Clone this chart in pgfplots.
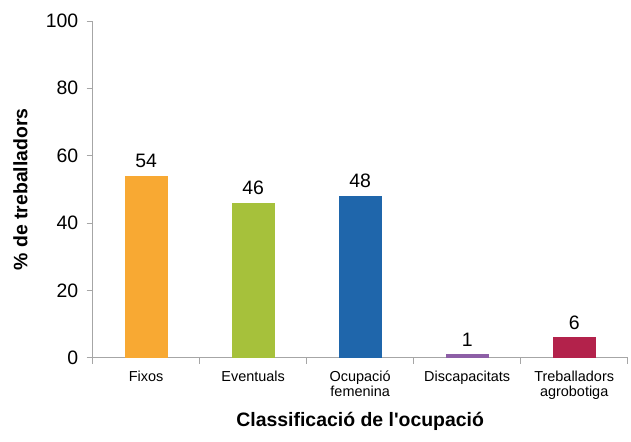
\documentclass[border=0pt]{standalone}
\usepackage{pgfplots}
\pgfplotsset{compat=1.18}
\usepackage{fontspec}
\setmainfont{Liberation Sans}

\definecolor{cfix}{HTML}{F8A933}
\definecolor{cevt}{HTML}{A6C13B}
\definecolor{cfem}{HTML}{1F66AB}
\definecolor{cdis}{HTML}{8D5FA6}
\definecolor{cagr}{HTML}{B3224B}
\definecolor{axgray}{HTML}{A6A6A6}

\begin{document}
\begin{tikzpicture}
  \begin{axis}[
    name=ax,
    scale only axis,
    width=537pt, height=338pt,
    ybar, bar width=43pt,
    xmin=-0.5, xmax=4.5,
    ymin=0, ymax=100,
    ytick={0,20,...,100},
    xtick={-0.5,0.5,1.5,2.5,3.5,4.5},
    xticklabels={},
    extra x ticks={0,1,2,3,4},
    extra x tick labels={Fixos, Eventuals, {Ocupació\\femenina}, Discapacitats, {Treballadors\\agrobotiga}},
    extra x tick style={major tick length=0pt},
    axis x line*=bottom,
    axis y line*=left,
    axis line style={axgray, line width=0.8pt},
    tick style={axgray, line width=0.8pt},
    tick align=outside,
    major tick length=6pt,
    /pgf/number format/assume math mode=true,
    yticklabel style={font=\fontsize{19.5}{20}\selectfont, xshift=-5pt},
    xticklabel style={font=\fontsize{14.5}{15}\selectfont, align=center, yshift=-10pt},
    xlabel={Classificació de l\textquotesingle ocupació},
    ylabel={\% de treballadors},
    every axis x label/.style={at={(axis description cs:0.5,-0.2041)}, anchor=base, font=\bfseries\fontsize{19.5}{20}\selectfont},
    every axis y label/.style={at={(axis description cs:-0.122,0.5)}, rotate=90, anchor=base, font=\bfseries\fontsize{19.5}{20}\selectfont},
    nodes near coords,
    every node near coord/.append style={font=\fontsize{19.5}{20}\selectfont, black, inner sep=0pt, yshift=8pt},
  ]
    \addplot[fill=cfix, draw=none, bar shift=0pt] coordinates {(0,54)};
    \addplot[fill=cevt, draw=none, bar shift=0pt] coordinates {(1,46)};
    \addplot[fill=cfem, draw=none, bar shift=0pt] coordinates {(2,48)};
    \addplot[fill=cdis, draw=none, bar shift=0pt] coordinates {(3,1)};
    \addplot[fill=cagr, draw=none, bar shift=0pt] coordinates {(4,6)};
  \end{axis}
  \path ([xshift=-93pt,yshift=-84pt]ax.south west) rectangle ([xshift=1pt,yshift=21pt]ax.north east);
\end{tikzpicture}
\end{document}
